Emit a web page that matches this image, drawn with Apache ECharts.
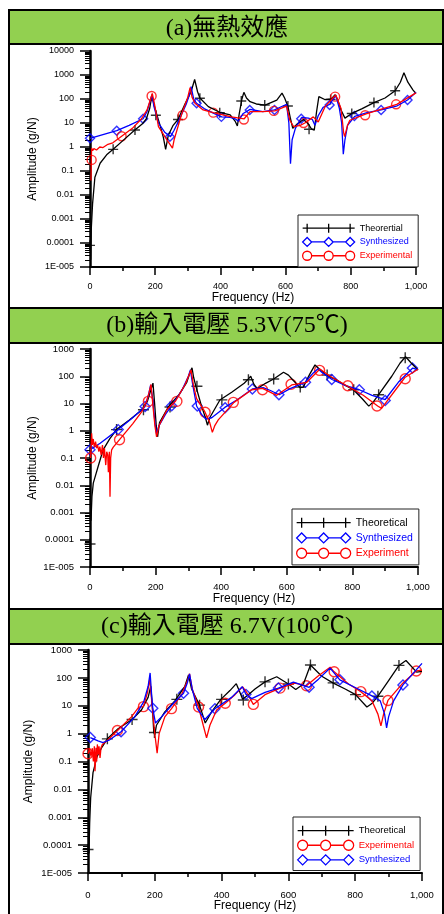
<!DOCTYPE html>
<html>
<head>
<meta charset="utf-8">
<script src="https://cdn.jsdelivr.net/npm/echarts@6/dist/echarts.min.js"></script>
<style>
    html, body { margin: 0; padding: 0; background: #fff; }
    #chart { width: 444px; height: 914px; }
</style>
</head>
<body>
<div id="chart"></div>
<script>
// panel titles and tick labels
const titles = ['(a)無熱效應', '(b)輸入電壓 5.3V(75℃)', '(c)輸入電壓 6.7V(100℃)'];
const yTickLabels = ['1E-005', '0.0001', '0.001', '0.01', '0.1', '1', '10', '100', '1000', '10000']; // index = exponent + 5

// (a) no thermal effect  [freq Hz, amplitude g/N]
const aTheoCurve = [[2,0.00002],[4,0.0004],[8,0.0045],[15,0.055],[31,0.21],[51,0.47],[71,0.8],[100,1.8],[133,4.5],[160,9],[173,15],[183,40],[190,150],[196,60],[205,22],[215,8],[225,2.5],[232,0.8],[240,3],[255,8],[270,14],[291,60],[310,200],[321,650],[330,200],[337,110],[363,48],[398,28],[430,22],[445,12],[452,7.5],[458,25],[466,100],[472,190],[480,110],[491,77],[510,62],[537,56],[573,90],[589,175],[597,110],[607,50],[615,15],[622,6],[635,9],[655,14],[670,9],[680,5.5],[688,5],[695,30],[702,125],[720,95],[740,100],[752,150],[760,90],[770,35],[782,16],[803,25],[835,40],[871,71],[905,110],[936,220],[952,500],[963,1250],[975,500],[991,235],[1000,170]];
const aTheoMarks = [[0,0.00008],[71,0.8],[138,5.1],[202,21],[270,14],[337,107],[398,27],[464,83],[536,56],[607,51],[672,5.5],[738,95],[803,25],[871,71],[936,220]];
const aSynCurve = [[0,2.3],[82,4.8],[120,8],[163,15],[175,30],[185,90],[190,150],[196,50],[210,10],[230,4],[247,2.7],[258,5],[275,15],[295,60],[305,150],[310,330],[318,100],[327,66],[350,40],[380,25],[404,18],[430,17],[445,15],[455,12],[470,25],[491,37],[530,30],[566,35],[590,50],[603,60],[610,10],[615,0.2],[620,2],[630,6],[649,17],[670,16],[682,14],[690,8],[700,20],[715,45],[735,60],[754,140],[765,40],[772,10],[777,0.5],[782,2],[790,8],[812,19],[850,27],[893,35],[940,50],[974,91],[1000,190]];
const aSynMarks = [[0,2.3],[82,4.8],[163,15],[245,2.7],[327,66],[403,18],[490,35],[566,35],[648,15],[735,56],[811,19.5],[893,35],[974,91]];
const aExpCurve = [[3,0.04],[4,0.3],[5,0.9],[8,0.7],[12,0.85],[20,0.75],[30,1.0],[40,0.95],[55,1.3],[70,1.5],[97,2.8],[130,6],[158,15],[175,35],[186,100],[191,170],[198,60],[210,7],[236,2],[253,0.9],[258,2],[281,23],[300,120],[307,300],[313,120],[322,66],[347,35],[378,27],[434,18],[473,15],[491,30],[530,30],[567,32],[593,45],[603,50],[613,13],[625,7],[645,8],[659,10],[685,18],[700,11],[721,48],[745,110],[754,147],[770,40],[778,4],[781,2.7],[790,8],[797,13],[847,24],[899,40],[941,60],[1000,180]];
const aExpMarks = [[5,0.29],[97,2.8],[189,133],[284,21],[378,27],[472,14],[564,32],[655,10],[752,125],[844,21],[939,60]];

// (b) 5.3 V (75 C)
const bTheoCurve = [[3,0.0005],[6,0.004],[10,0.012],[25,0.05],[40,0.2],[60,0.5],[81,1.1],[120,2.5],[158,5.8],[175,12],[185,30],[192,56],[197,10],[202,1.5],[206,0.6],[212,2],[239,7.6],[270,20],[295,60],[306,150],[311,205],[316,90],[323,42],[340,8],[352,3],[358,1.6],[365,3],[396,13.5],[432,26],[470,55],[483,80],[490,100],[500,50],[510,35],[535,55],[560,79],[590,140],[605,110],[620,70],[641,38],[650,40],[670,120],[686,260],[700,180],[720,110],[750,75],[780,45],[803,32],[830,15],[850,8],[865,12],[880,21],[920,100],[945,300],[962,520],[980,300],[1000,170]];
const bTheoMarks = [[0,0.00007],[81,1.1],[163,5.9],[244,7.4],[326,43],[402,13.6],[483,74],[560,79],[641,40],[723,110],[804,32],[880,21],[961,480]];
const bSynCurve = [[0,0.2],[31,0.35],[86,1.1],[130,3],[168,7.8],[178,20],[185,48],[191,15],[198,2],[203,0.75],[210,1.5],[230,4],[249,8.3],[280,30],[300,100],[306,170],[313,50],[325,8.1],[340,4],[353,2.7],[371,3],[411,7.2],[450,14],[495,34],[528,38],[550,30],[577,21],[610,35],[656,60],[680,130],[695,190],[710,130],[738,76],[780,45],[821,32],[860,20],[900,14],[940,60],[984,200],[1000,175]];
const bSynMarks = [[0,0.2],[86,1.1],[168,7.8],[249,8.3],[327,8.1],[412,7],[495,34],[576,21],[657,60],[737,76],[821,32],[900,13],[983,200]];
const bExpCurve = [[2,0.1],[3,0.25],[5,0.81],[7,0.3],[10,0.5],[13,0.25],[17,0.4],[20,0.23],[23,0.3],[27,0.17],[30,0.26],[34,0.13],[38,0.3],[41,0.1],[44,0.23],[48,0.055],[51,0.17],[54,0.13],[56,0.03],[59,0.17],[61,0.0038],[63,0.1],[66,0.2],[71,0.25],[90,0.47],[130,1.8],[158,5],[173,12.3],[180,25],[186,50],[192,8],[198,1.5],[203,0.6],[210,1.5],[235,6],[261,12.3],[290,50],[303,120],[308,170],[315,50],[325,15],[350,5],[365,2],[373,0.87],[380,1.5],[391,2.5],[439,11],[493,32],[526,36],[569,20],[615,48],[661,60],[701,185],[732,100],[787,42],[833,20],[877,8.1],[889,6.6],[960,90],[1000,180]];
const bExpMarks = [[2,0.1],[90,0.47],[178,12],[265,12],[351,4.8],[437,11],[526,32],[613,51],[700,164],[786,45],[875,8.1],[961,81]];

// (c) 6.7 V (100 C)
const cTheoCurve = [[3,0.00005],[5,0.0006],[8,0.005],[15,0.04],[27,0.15],[42,0.33],[58,0.65],[90,1.5],[132,3.2],[160,7],[180,20],[188,50],[193,8],[197,1.1],[200,0.9],[205,2],[230,6],[260,15],[290,50],[301,126],[310,40],[334,10.5],[351,2.4],[370,6],[397,16.6],[425,35],[444,62],[455,30],[463,17],[480,25],[500,40],[530,72],[565,110],[600,60],[622,38],[645,60],[666,290],[700,114],[733,66],[770,40],[801,25],[835,9],[850,12],[868,22],[900,80],[931,280],[952,420],[984,160],[1000,170]];
const cTheoMarks = [[0,0.00007],[58,0.65],[132,3.2],[199,1.1],[266,17],[334,10.5],[400,17],[465,16],[530,72],[600,60],[666,290],[734,66],[801,25],[868,22],[931,280]];
const cSynCurve = [[7,0.72],[30,0.55],[45,0.48],[65,0.6],[99,1.17],[140,4],[167,14],[180,50],[186,150],[191,20],[194,8.1],[202,2.4],[220,4],[255,12],[286,28],[298,70],[304,138],[312,40],[327,8],[350,3.2],[380,7.8],[430,20],[455,40],[462,48],[473,25.6],[490,18],[530,30],[570,43],[615,70],[662,46],[690,90],[725,225],[754,85],[800,45],[850,22.5],[875,15],[888,5],[894,1.6],[900,4],[915,15],[943,56],[1000,330]];
const cSynMarks = [[7,0.72],[99,1.17],[194,8.1],[286,28],[380,7.8],[473,25.6],[570,43],[662,46],[754,85],[850,22.5],[943,56]];
const cExpCurve = [[0,0.19],[5,0.3],[9,0.15],[13,0.3],[16,0.1],[19,0.35],[21,0.045],[24,0.31],[26,0.1],[28,0.41],[31,0.18],[33,0.35],[36,0.135],[39,0.31],[43,0.41],[60,0.6],[88,1.3],[130,4],[152,9],[166,9.3],[178,30],[185,90],[192,10],[200,1],[207,0.2],[213,1],[230,4],[250,7.9],[280,25],[298,80],[304,140],[312,40],[331,9],[345,2],[355,0.7],[365,2],[385,7],[411,12.3],[440,25],[463,48],[475,30],[495,11.2],[530,25],[575,43],[620,65],[654,52],[690,120],[725,240],[737,165],[780,60],[817,32],[850,15],[868,5],[877,1.9],[885,5],[898,15.5],[940,60],[983,177],[1000,190]];
const cExpMarks = [[0,0.19],[88,1.3],[166,9.3],[250,7.9],[331,9],[411,12.3],[495,11.2],[575,43],[654,52],[737,165],[817,32],[898,15.5],[983,177]];

const BLACK = '#000000', BLUE = '#0000ff', RED = '#ff0000';
const FONT = '"Liberation Sans", Arial, sans-serif';
const NONE = 'rgba(0,0,0,0)';

let markSymbol = {
    plus: 'path://M5 0L5 10M0 5L10 5',
    diamond: 'diamond',
    circle: 'circle'
};

// legend icon: line with three markers, like Origin draws it
function iconPath(kind, w, h) {
    let r = h / 2, cy = h / 2;
    let xs = [r, w / 2, w - r];
    let p = '';
    if (kind === 'plus') {
        p = 'M0 ' + cy + 'L' + w + ' ' + cy;
        xs.forEach(x => { p += 'M' + x + ' 0L' + x + ' ' + h; });
    } else {
        p = 'M' + (xs[0] + r) + ' ' + cy + 'L' + (xs[1] - r) + ' ' + cy +
            'M' + (xs[1] + r) + ' ' + cy + 'L' + (xs[2] - r) + ' ' + cy;
        xs.forEach(x => {
            if (kind === 'circle') {
                p += 'M' + (x + r) + ' ' + cy + 'A' + r + ' ' + r + ' 0 1 1 ' + (x - r) + ' ' + cy +
                     'A' + r + ' ' + r + ' 0 1 1 ' + (x + r) + ' ' + cy + 'Z';
            } else {
                p += 'M' + (x - r) + ' ' + cy + 'L' + x + ' ' + (cy - r) + 'L' + (x + r) + ' ' + cy + 'L' + x + ' ' + (cy + r) + 'Z';
            }
        });
    }
    return 'path://' + p;
}

let panels = [
    {
        grid: {left: 90, top: 51, width: 326, height: 216},
        yMax: 10000, tickSize: 9, xLabelMargin: 15, xNameGap: 25, yNameGap: 51, markSize: 9,
        legend: {left: 298, top: 215, itemWidth: 52, itemHeight: 9, itemGap: 3.5, fontSize: 9, padding: [8, 6, 6, 4]},
        curves: [
            {name: 'Theorertial', color: BLACK, kind: 'plus', line: aTheoCurve, marks: aTheoMarks},
            {name: 'Synthesized', color: BLUE, kind: 'diamond', line: aSynCurve, marks: aSynMarks},
            {name: 'Experimental', color: RED, kind: 'circle', line: aExpCurve, marks: aExpMarks}
        ]
    },
    {
        grid: {left: 90, top: 349, width: 328, height: 218},
        yMax: 1000, tickSize: 9.5, xLabelMargin: 15, xNameGap: 26, yNameGap: 51, markSize: 10,
        legend: {left: 292, top: 509, itemWidth: 54, itemHeight: 10, itemGap: 4, fontSize: 10.5, padding: [8, 6, 6, 4]},
        curves: [
            {name: 'Theoretical', color: BLACK, kind: 'plus', line: bTheoCurve, marks: bTheoMarks},
            {name: 'Synthesized', color: BLUE, kind: 'diamond', line: bSynCurve, marks: bSynMarks},
            {name: 'Experiment', color: RED, kind: 'circle', line: bExpCurve, marks: bExpMarks}
        ]
    },
    {
        grid: {left: 88, top: 650, width: 334, height: 223},
        yMax: 1000, tickSize: 9.5, xLabelMargin: 17, xNameGap: 27, yNameGap: 53, markSize: 10,
        legend: {left: 293, top: 817, itemWidth: 56, itemHeight: 10, itemGap: 3.3, fontSize: 9.5, padding: [8, 6, 5, 4]},
        curves: [
            {name: 'Theoretical', color: BLACK, kind: 'plus', line: cTheoCurve, marks: cTheoMarks},
            {name: 'Experimental', color: RED, kind: 'circle', line: cExpCurve, marks: cExpMarks},
            {name: 'Synthesized', color: BLUE, kind: 'diamond', line: cSynCurve, marks: cSynMarks}
        ]
    }
];

let grids = [], xAxes = [], yAxes = [], legends = [], series = [];

panels.forEach((p, i) => {
    grids.push(Object.assign({outerBoundsMode: 'none', containLabel: false}, p.grid));
    xAxes.push({
        type: 'value', gridIndex: i, min: 0, max: 1000, interval: 200,
        axisLine: {show: true, onZero: false, lineStyle: {color: '#000', width: 2}},
        axisTick: {show: true, length: 8, lineStyle: {color: '#000', width: 1.5}},
        minorTick: {show: true, splitNumber: 2, length: 4, lineStyle: {color: '#000', width: 1.5}},
        splitLine: {show: false},
        axisLabel: {fontSize: p.tickSize, color: '#000', margin: p.xLabelMargin, fontFamily: FONT},
        name: 'Frequency (Hz)', nameLocation: 'middle', nameGap: p.xNameGap, nameMoveOverlap: false,
        nameTextStyle: {fontSize: 12, color: '#000', fontFamily: FONT}
    });
    yAxes.push({
        type: 'log', logBase: 10, gridIndex: i, min: 0.00001, max: p.yMax,
        axisLine: {show: true, onZero: false, lineStyle: {color: '#000', width: 2.5}},
        axisTick: {show: true, length: 10, lineStyle: {color: '#000', width: 1.5}},
        minorTick: {show: true, splitNumber: 9, length: 5, lineStyle: {color: '#000', width: 1}},
        splitLine: {show: false},
        axisLabel: {
            fontSize: p.tickSize, color: '#000', margin: 16, fontFamily: FONT,
            formatter: v => yTickLabels[Math.round(Math.log10(v)) + 5]
        },
        name: 'Amplitude (g/N)', nameLocation: 'middle', nameGap: p.yNameGap, nameMoveOverlap: false,
        nameTextStyle: {fontSize: 12, color: '#000', fontFamily: FONT}
    });

    legends.push({
        orient: 'vertical', left: p.legend.left, top: p.legend.top,
        itemWidth: p.legend.itemWidth, itemHeight: p.legend.itemHeight, itemGap: p.legend.itemGap,
        padding: p.legend.padding, backgroundColor: '#fff', borderColor: '#222', borderWidth: 1,
        selectedMode: false, symbolKeepAspect: false,
        textStyle: {fontSize: p.legend.fontSize, fontFamily: FONT},
        data: p.curves.map(c => ({
            name: c.name,
            icon: iconPath(c.kind, p.legend.itemWidth, p.legend.itemHeight),
            itemStyle: {color: NONE, borderColor: c.color, borderWidth: 1.3},
            textStyle: {color: c.color, fontSize: p.legend.fontSize, fontFamily: FONT}
        }))
    });

    p.curves.forEach(c => {
        series.push({
            name: c.name, type: 'line', xAxisIndex: i, yAxisIndex: i,
            data: c.line, showSymbol: false, symbol: 'none', silent: true,
            lineStyle: {color: c.color, width: 1.3}, itemStyle: {color: c.color},
            emphasis: {disabled: true}
        });
    });
    p.curves.forEach(c => {
        let size = c.kind === 'plus' ? p.markSize + 1 : p.markSize;
        series.push({
            name: c.name + ' marks', type: 'scatter', xAxisIndex: i, yAxisIndex: i,
            data: c.marks, symbol: markSymbol[c.kind], symbolSize: size, silent: true,
            itemStyle: {color: NONE, borderColor: c.color, borderWidth: 1.4},
            emphasis: {disabled: true}
        });
    });
});

// green header bands and frame
let bands = [[10, 34], [308, 35], [609, 35]];
let titleY = [29, 326, 627];
let graphics = [];
bands.forEach((b, i) => {
    graphics.push({type: 'rect', shape: {x: 8, y: b[0], width: 436, height: b[1]}, style: {fill: '#92d050'}});
    graphics.push({type: 'line', shape: {x1: 8, y1: b[0], x2: 444, y2: b[0]}, style: {stroke: '#000', lineWidth: 2}});
    graphics.push({type: 'line', shape: {x1: 8, y1: b[0] + b[1], x2: 444, y2: b[0] + b[1]}, style: {stroke: '#000', lineWidth: 2}});
    graphics.push({
        type: 'text', x: 227, y: titleY[i],
        style: {
            text: titles[i], fill: '#000', align: 'center', verticalAlign: 'middle',
            font: '24px "Liberation Serif", "Noto Sans CJK TC", serif'
        }
    });
});
graphics.push({type: 'line', shape: {x1: 9, y1: 10, x2: 9, y2: 914}, style: {stroke: '#000', lineWidth: 2}});
graphics.push({type: 'line', shape: {x1: 443, y1: 10, x2: 443, y2: 914}, style: {stroke: '#000', lineWidth: 2}});

let chart = echarts.init(document.getElementById('chart'));
chart.setOption({
    animation: false,
    backgroundColor: '#fff',
    textStyle: {fontFamily: FONT},
    graphic: {elements: graphics},
    grid: grids,
    xAxis: xAxes,
    yAxis: yAxes,
    legend: legends,
    series: series
});
window.addEventListener('resize', function () {
    chart.resize();
});
</script>
</body>
</html>
